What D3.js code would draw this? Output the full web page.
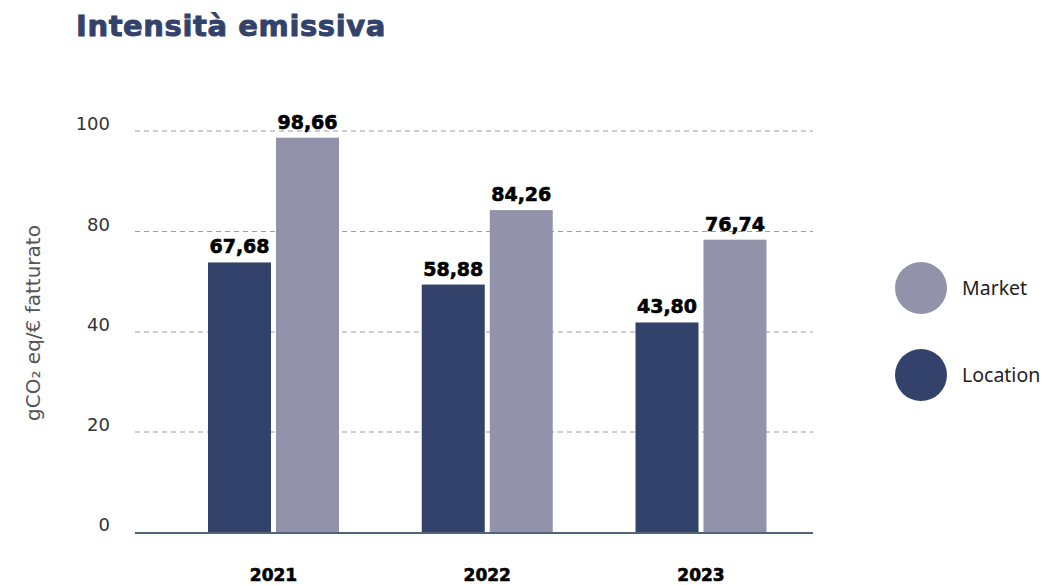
<!DOCTYPE html>
<html><head><meta charset="utf-8">
<script src="https://cdn.jsdelivr.net/npm/d3@7"></script>
<style>body{margin:0;background:#fff}svg{display:block}</style>
</head><body>
<svg id="c" width="1045" height="585"></svg>
<script>
const title = "Intensità emissiva";
const years = ["2021", "2022", "2023"];
const seriesNames = ["Location", "Market"];
const locationValues = [67.68, 58.88, 43.80];
const marketValues = [98.66, 84.26, 76.74];
const tickValues = [0, 20, 40, 80, 100];
const yTitle = "gCO₂ eq/€ fatturato";
const colors = {Location: "#33426a", Market: "#9292aa"};

const svg = d3.select("#c");
const fmt = v => v.toFixed(2).replace(".", ",");

// y scale follows the axis labels as drawn (0,20,40,80,100 evenly spaced)
const y = d3.scaleLinear().domain(tickValues).range([532, 432, 332, 231.5, 131]);
const x = d3.scalePoint().domain(years).range([273.5, 701]);
const xi = d3.scaleBand().domain(seriesNames).range([-65.5, 65.5]).paddingInner(0.0735);

svg.append("text").attr("x", 76).attr("y", 36)
  .attr("font-family", "'DejaVu Sans', sans-serif").attr("font-weight", 700)
  .attr("font-size", 29).attr("fill", "#33426a").attr("stroke", "#33426a").attr("stroke-width", 0.9)
  .attr("letter-spacing", 0.6)
  .text(title);

// gridlines
const gy = svg.append("g");
gy.selectAll("line").data(tickValues.filter(d => d > 0)).join("line")
  .attr("x1", 135).attr("x2", 813).attr("y1", d => y(d)).attr("y2", d => y(d))
  .attr("stroke", "#9a9ab0").attr("stroke-width", 1).attr("stroke-dasharray", "5,4");
gy.selectAll("text").data(tickValues).join("text")
  .attr("x", 110).attr("y", d => y(d)).attr("dy", "-0.05em").attr("text-anchor", "end")
  .attr("font-family", "'DejaVu Sans', sans-serif").attr("font-weight", 400)
  .attr("font-size", 18).attr("fill", "#333").text(d => d);

svg.append("text")
  .attr("transform", "translate(40,323) rotate(-90)").attr("text-anchor", "middle")
  .attr("font-family", "'DejaVu Sans', sans-serif").attr("font-weight", 400)
  .attr("font-size", 20).attr("fill", "#555").text(yTitle);

const rows = years.map((yr, i) => ({year: yr, Location: locationValues[i], Market: marketValues[i]}));
const groups = svg.selectAll("g.grp").data(rows).join("g").attr("class", "grp")
  .attr("transform", d => `translate(${x(d.year)},0)`);
const bars = groups.selectAll("g.b").data(d => seriesNames.map(s => ({s, v: d[s]}))).join("g").attr("class", "b");
bars.append("rect")
  .attr("x", d => xi(d.s)).attr("width", xi.bandwidth())
  .attr("y", d => y(d.v)).attr("height", d => y(0) - y(d.v))
  .attr("fill", d => colors[d.s]);
bars.append("text")
  .attr("x", d => xi(d.s) + xi.bandwidth() / 2).attr("y", d => y(d.v) - 9)
  .attr("text-anchor", "middle").attr("font-family", "'DejaVu Sans', sans-serif")
  .attr("font-weight", 700).attr("font-size", 19).attr("fill", "#000")
  .attr("stroke", "#000").attr("stroke-width", 0.6).text(d => fmt(d.v));

svg.append("line").attr("x1", 135).attr("x2", 813).attr("y1", y(0) + 1).attr("y2", y(0) + 1)
  .attr("stroke", "#4d6479").attr("stroke-width", 2);

svg.selectAll("text.xl").data(years).join("text").attr("class", "xl")
  .attr("x", d => x(d)).attr("y", 581).attr("text-anchor", "middle")
  .attr("font-family", "'DejaVu Sans', sans-serif").attr("font-weight", 700)
  .attr("font-size", 17).attr("fill", "#000").attr("stroke", "#000").attr("stroke-width", 0.6)
  .text(d => d);

const legendItems = ["Market", "Location"];
const lg = svg.selectAll("g.lg").data(legendItems).join("g").attr("class", "lg")
  .attr("transform", (d, i) => `translate(921,${288 + i * 87})`);
lg.append("circle").attr("r", 26).attr("fill", d => colors[d]);
lg.append("text").attr("x", 41).attr("dy", "0.35em")
  .attr("font-family", "'Noto Sans', sans-serif").attr("font-size", 19.5).attr("fill", "#222")
  .text(d => d);
</script>
</body></html>
